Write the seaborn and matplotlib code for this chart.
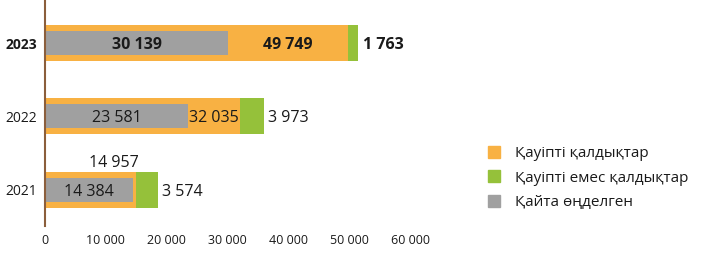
import matplotlib
matplotlib.use("Agg")
import matplotlib.pyplot as plt
from matplotlib.lines import Line2D
import seaborn as sns
import pandas as pd

years = ["2023", "2022", "2021"]
hazardous = [49749, 32035, 14957]      # Қауіпті қалдықтар
non_hazardous = [1763, 3973, 3574]     # Қауіпті емес қалдықтар
recycled = [30139, 23581, 14384]       # Қайта өңделген
x_ticks = [0, 10000, 20000, 30000, 40000, 50000, 60000]
legend_labels = ["Қауіпті қалдықтар", "Қауіпті емес қалдықтар", "Қайта өңделген"]

c_orange = "#F8B143"
c_green = "#95C13A"
c_grey = "#A0A0A0"
c_spine = "#8B5E3C"
c_text = "#1a1a1a"

sns.set_theme(style="white")
plt.rcParams["font.family"] = ["Open Sans", "DejaVu Sans"]

df = pd.DataFrame({
    "year": years,
    "hazardous": hazardous,
    "non_hazardous": non_hazardous,
    "total": [h + n for h, n in zip(hazardous, non_hazardous)],
    "recycled": recycled,
})

fig = plt.figure(figsize=(7.19, 2.61), dpi=100)
ax = fig.add_axes([45 / 719, 1 - 226 / 261, (410 - 45) / 719, 226 / 261])

bar_kw = dict(saturation=1, ax=ax, orient="h", edgecolor="none", linewidth=0)
sns.barplot(data=df, y="year", x="total", order=years, color=c_green, width=0.49, **bar_kw)
sns.barplot(data=df, y="year", x="hazardous", order=years, color=c_orange, width=0.49, **bar_kw)
sns.barplot(data=df, y="year", x="recycled", order=years, color=c_grey, width=0.33, **bar_kw)

ax.set_xlim(0, 60000)
ax.set_ylim(2.495, -0.587)
ax.set_xticks(x_ticks)
ax.set_xticklabels([f"{v:,}".replace(",", " ") for v in x_ticks], fontsize=9, color=c_text)
ax.set_xlabel("")
ax.set_ylabel("")
ax.tick_params(axis="x", length=0, pad=6)
ax.tick_params(axis="y", length=0, pad=6)
for lbl in ax.get_yticklabels():
    lbl.set_fontsize(10)
    lbl.set_color(c_text)
    if lbl.get_text() == "2023":
        lbl.set_fontweight("bold")
for s in ["top", "right", "bottom"]:
    ax.spines[s].set_visible(False)
ax.spines["left"].set_color(c_spine)
ax.spines["left"].set_linewidth(1.5)

fmt = lambda v: f"{v:,}".replace(",", " ")
for i, (h, n, r) in enumerate(zip(hazardous, non_hazardous, recycled)):
    w = "bold" if years[i] == "2023" else "normal"
    tk = dict(fontsize=11.5, fontweight=w, color=c_text, va="center_baseline")
    ax.text(r / 2, i, fmt(r), ha="center", **tk)
    if h - r > 3000:
        ax.text((h + r) / 2, i, fmt(h), ha="center", **tk)
    else:
        ax.text(h * 0.76, i - 0.39, fmt(h), ha="center", **tk)
    ax.text(h + n + 700, i, fmt(n), ha="left", clip_on=False, **tk)

handles = [Line2D([], [], marker="s", linestyle="", markersize=8, color=c)
           for c in [c_orange, c_green, c_grey]]
fig.legend(handles, legend_labels, loc="center left", bbox_to_anchor=(480 / 719, 1 - 178 / 261),
           frameon=False, fontsize=11, handlelength=1.0, handletextpad=0.9,
           labelspacing=0.62, borderaxespad=0, labelcolor=c_text)

fig.savefig("out.png", dpi=100)
